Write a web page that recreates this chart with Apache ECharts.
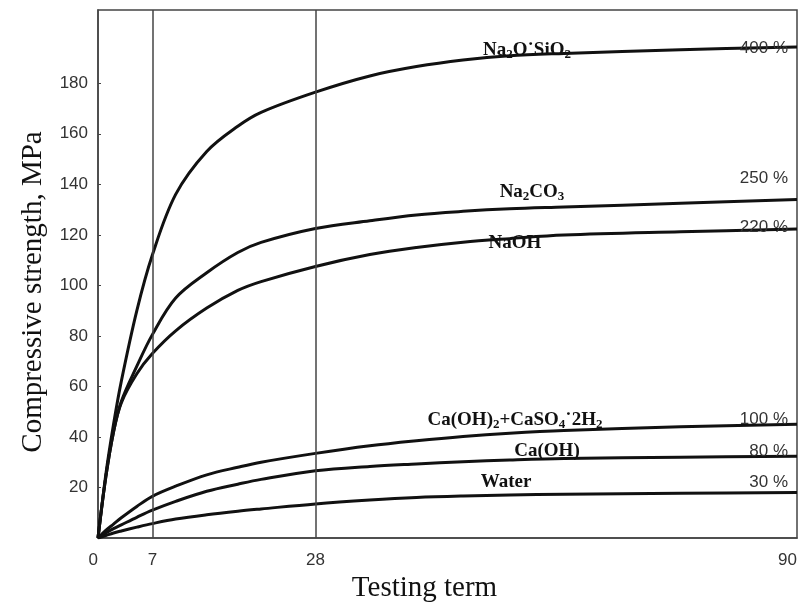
<!DOCTYPE html>
<html>
<head>
<meta charset="utf-8">
<script src="https://cdn.jsdelivr.net/npm/echarts@6/dist/echarts.min.js"></script>
<style>html,body{margin:0;padding:0;background:#fff;}#chart{width:803px;height:603px;}</style>
</head>
<body>
<div id="chart"></div>
<script>
// Testing term (days)
const days = [0, 1, 2, 3, 5, 7, 10, 14, 18, 21, 28, 35, 41, 47, 53, 60, 75, 90];
// Compressive strength, MPa
const naSilicate = [0, 25, 45, 62, 90, 112, 136, 153, 163, 168.5, 176.5, 182.9, 186.6, 189.2, 190.9, 191.8, 193.3, 194.4];
const naCarbonate = [0, 24, 42, 54, 68, 80.5, 95, 105, 113, 117, 122.5, 125.6, 127.9, 129.3, 130.3, 131, 132.5, 134];
const naHydroxide = [0, 24, 42, 53.5, 65, 73, 82, 91, 98, 101.5, 107.5, 112.2, 115, 117.1, 118.5, 119.9, 121.2, 122.3];
const caGypsum = [0, 3, 5.5, 8, 12.5, 16.5, 20.5, 25, 28, 30, 33.5, 36.5, 38.5, 40.2, 41.5, 42.6, 44, 45];
const caHydroxide = [0, 2, 3.7, 5.2, 8.2, 11, 14.5, 18.5, 21.3, 23.2, 26.6, 28.3, 29.3, 30.2, 30.9, 31.5, 32, 32.4];
const water = [0, 1, 2, 2.8, 4.3, 5.7, 7.5, 9.2, 10.6, 11.5, 13.5, 15, 16, 16.6, 17, 17.3, 17.7, 18];
const markerDays = [7, 28];
const xTickLabels = [0, 7, 28, 90];
const yTickLabels = [20, 40, 60, 80, 100, 120, 140, 160, 180];
const seriesNames = ['Na2O·SiO2', 'Na2CO3', 'NaOH', 'Ca(OH)2+CaSO4·2H2', 'Ca(OH)', 'Water'];
const percents = ['400 %', '250 %', '220 %', '100 %', '80 %', '30 %'];

const allSeries = [naSilicate, naCarbonate, naHydroxide, caGypsum, caHydroxide, water];

const chart = echarts.init(document.getElementById('chart'), null, {renderer: 'canvas'});

const serif = '"Liberation Serif", "Times New Roman", serif';
const sans = '"Liberation Sans", Arial, sans-serif';

const series = allSeries.map((vals, i) => ({
  name: seriesNames[i],
  type: 'line',
  data: days.map((d, k) => [d, vals[k]]),
  symbol: 'none',
  smooth: 0.35,
  lineStyle: {color: '#111', width: 3},
  z: 3,
  markLine: i === 0 ? {
    silent: true,
    symbol: 'none',
    label: {show: false},
    lineStyle: {color: '#444', width: 1.5, type: 'solid'},
    data: markerDays.map(d => ({xAxis: d}))
  } : undefined
}));

const rich = {
  n: {fontFamily: serif, fontSize: 19, fontWeight: 'bold', color: '#111', lineHeight: 22},
  s: {fontFamily: serif, fontSize: 13, fontWeight: 'bold', color: '#111', lineHeight: 12, verticalAlign: 'bottom'}
};
function chem(text, x, y) {
  return {type: 'text', x: x, y: y, z: 10,
    style: {text: text, rich: rich, align: 'center', verticalAlign: 'middle', fill: '#111'}};
}
function pct(text, x, y) {
  return {type: 'text', x: x, y: y, z: 10,
    style: {text: text, fontFamily: sans, fontSize: 17, fill: '#333', align: 'right', verticalAlign: 'middle'}};
}

const option = {
  backgroundColor: '#fff',
  animation: false,
  grid: {left: 98, right: 6, top: 10, bottom: 65, show: true, borderColor: '#444', borderWidth: 1.5, outerBoundsMode: 'none'},
  xAxis: {
    type: 'value', min: 0, max: 90,
    axisLine: {show: true, lineStyle: {color: '#444', width: 1.5}},
    axisTick: {show: false},
    splitLine: {show: false},
    axisLabel: {customValues: xTickLabels, fontFamily: sans, fontSize: 17, color: '#333', margin: 14,
      alignMinLabel: 'right', alignMaxLabel: 'right'},
    name: 'Testing term', nameLocation: 'middle', nameGap: 22,
    nameTextStyle: {fontFamily: serif, fontSize: 29, color: '#111', padding: [0, 46, 0, 0]}
  },
  yAxis: {
    type: 'value', min: 0, max: 209,
    axisLine: {show: true, lineStyle: {color: '#444', width: 1.5}},
    axisTick: {show: true, inside: true, length: 3, customValues: yTickLabels, lineStyle: {color: '#444'}},
    splitLine: {show: false},
    axisLabel: {customValues: yTickLabels, fontFamily: sans, fontSize: 17, color: '#333', margin: 10},
    name: 'Compressive strength, MPa', nameLocation: 'middle', nameGap: 50,
    nameTextStyle: {fontFamily: serif, fontSize: 29, color: '#111', padding: [0, 36, 0, 0]}
  },
  series: series,
  graphic: [
    chem('{n|Na}{s|2}{n|O˙SiO}{s|2}', 527, 50),
    pct(percents[0], 788, 48),
    chem('{n|Na}{s|2}{n|CO}{s|3}', 532, 192),
    pct(percents[1], 788, 178),
    chem('{n|NaOH}', 515, 243),
    pct(percents[2], 788, 227),
    chem('{n|Ca(OH)}{s|2}{n|+CaSO}{s|4}{n|˙2H}{s|2}', 515, 420),
    pct(percents[3], 788, 419),
    chem('{n|Ca(OH)}', 547, 451),
    pct(percents[4], 788, 451),
    chem('{n|Water}', 506, 482),
    pct(percents[5], 788, 482)
  ]
};
chart.setOption(option);
</script>
</body>
</html>
